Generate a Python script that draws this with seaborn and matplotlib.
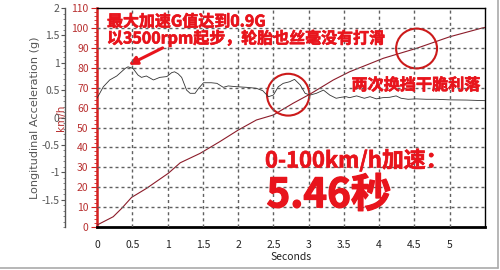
import numpy as np
import pandas as pd
import matplotlib
matplotlib.use("Agg")
import matplotlib.pyplot as plt
from matplotlib.ticker import MultipleLocator
from matplotlib.patches import Ellipse
from matplotlib.collections import LineCollection
import matplotlib.patheffects as pe
import seaborn as sns

# --- data ---
accel_t = [0.0, 0.09, 0.18, 0.28, 0.40, 0.44, 0.51, 0.58, 0.63, 0.70, 0.80, 0.89, 0.99,
           1.06, 1.10, 1.15, 1.20, 1.27, 1.32, 1.39, 1.44, 1.51, 1.62, 1.70, 1.79, 1.86,
           1.98, 2.12, 2.26, 2.35, 2.43, 2.50, 2.57, 2.64, 2.73, 2.80, 2.88, 2.95, 3.02,
           3.11, 3.21, 3.30, 3.39, 3.46, 3.53, 3.58, 3.68, 3.79, 3.87, 3.96, 4.05, 4.15,
           4.24, 4.31, 4.41, 4.52, 4.67, 4.81, 5.00, 5.24, 5.50]
accel_kmh_scale = [64.7, 70.5, 73.9, 75.9, 79.7, 80.5, 79.7, 76.4, 75.2, 75.9, 73.9, 75.2, 75.6,
                   77.6, 78.0, 77.0, 75.2, 68.8, 67.2, 67.2, 69.7, 72.5, 72.5, 72.2, 70.2, 70.9,
                   70.5, 70.2, 69.7, 68.5, 65.5, 66.3, 70.5, 72.2, 73.0, 74.2, 71.4, 67.2, 66.3,
                   67.2, 68.8, 66.3, 64.7, 65.2, 65.5, 65.0, 65.9, 64.7, 65.5, 64.4, 65.0, 65.2,
                   65.9, 64.7, 64.2, 64.4, 64.2, 64.2, 63.9, 63.8, 63.5]
speed_t = [0.0, 0.23, 0.35, 0.49, 0.70, 1.01, 1.18, 1.46, 1.74, 2.00, 2.26, 2.50, 2.78,
           3.02, 3.35, 3.58, 4.06, 4.53, 5.00, 5.46, 5.50]
speed_kmh = [1.0, 5.2, 9.4, 14.9, 19.4, 27.0, 32.3, 37.0, 42.9, 48.7, 53.8, 56.3, 62.2,
             66.8, 73.9, 78.0, 84.8, 89.8, 95.6, 100.0, 100.3]

# acceleration in g (g axis -2..2 spans the same height as 0..110 km/h)
accel_g = [-2 + v * 4 / 110 for v in accel_kmh_scale]

g_ticks = [2, 1.5, 1, 0.5, 0, -0.5, -1, -1.5]
g_labels = ["2", "1.5", "1", "0.5", "0", "-0.5", "-1", "-1.5"]
x_labels = ["0", "0.5", "1", "1.5", "2", "2.5", "3", "3.5", "4", "4.5", "5"]

sns.set_style("white")
plt.rcParams['font.family'] = ['Noto Sans CJK SC', 'DejaVu Sans']

fig = plt.figure(figsize=(5, 2.7), dpi=100)
ax = fig.add_axes([0.194, 0.159, 0.776, 0.811])

df_speed = pd.DataFrame({"t": speed_t, "kmh": speed_kmh})
sns.lineplot(data=df_speed, x="t", y="kmh", ax=ax, color="#8c1c2a", linewidth=0.8, zorder=3)
ax.set_xlim(0, 5.5)
ax.set_ylim(0, 110)

ax.xaxis.set_major_locator(MultipleLocator(0.5))
ax.xaxis.set_minor_locator(MultipleLocator(0.1))
ax.yaxis.set_major_locator(MultipleLocator(10))
ax.yaxis.set_minor_locator(MultipleLocator(2))
ax.set_xticks(np.arange(0, 5.01, 0.5))
ax.set_xticklabels(x_labels)

# horizontal dashed grid built from short solid segments at the km/h major ticks
dash_len, dash_step = 0.042, 0.085
dash_starts = np.arange(0, 5.5, dash_step)
h_segments = []
for yv in ax.get_yticks():
    if 0 < yv < 110:
        for xs in dash_starts:
            h_segments.append([(xs, yv), (min(xs + dash_len, 5.5), yv)])
ax.add_collection(LineCollection(h_segments, colors="#606060", linewidths=1.0,
                                 linestyles="solid", zorder=3))

for s in ["top", "right"]:
    ax.spines[s].set_color("black")
    ax.spines[s].set_linewidth(1.0)
ax.spines["bottom"].set_color("black")
ax.spines["bottom"].set_linewidth(2.0)
ax.spines["left"].set_color("#d42020")
ax.spines["left"].set_linewidth(1.8)

ax.tick_params(axis="x", which="major", direction="out", length=4, width=0.8,
               color="black", labelsize=7.5, labelcolor="#222222", pad=5)
ax.tick_params(axis="x", which="minor", direction="out", length=2.5, width=0.6, color="black")
ax.tick_params(axis="y", which="major", direction="out", length=4, width=0.8,
               color="#d42020", labelsize=7.5, labelcolor="#b83030", pad=2)
ax.tick_params(axis="y", which="minor", direction="out", length=2, width=0.6, color="#d42020")
ax.set_xlabel("Seconds", fontsize=7.5, color="#222222", labelpad=2)
ax.set_ylabel("")
ax.text(-0.092, 0.5, "km/h", transform=ax.transAxes, rotation=90, fontsize=7.5,
        color="#b83030", ha="center", va="center", family=['DejaVu Sans'])

# g axis
axg = ax.twinx()
df_acc = pd.DataFrame({"t": accel_t, "g": accel_g})
sns.lineplot(data=df_acc, x="t", y="g", ax=axg, color="#333333", linewidth=0.6, zorder=3)
axg.set_ylim(-2, 2)
axg.set_xlim(0, 5.5)
axg.patch.set_visible(False)

# vertical dashed grid at the seconds major ticks
grid_kw = dict(linestyle=(0, (2.2, 2.2)), color="#606060", linewidth=1.0, zorder=1)
for xv in ax.get_xticks():
    if 0 < xv < 5.5:
        axg.axvline(xv, **grid_kw)

axg.spines["right"].set_visible(False)
axg.spines["top"].set_visible(False)
axg.spines["bottom"].set_visible(False)
axg.spines["left"].set_visible(True)
axg.spines["left"].set_position(("outward", 23))
axg.spines["left"].set_color("#555555")
axg.spines["left"].set_linewidth(1.0)
axg.yaxis.set_ticks_position("left")
axg.yaxis.set_label_position("left")
axg.set_yticks(g_ticks)
axg.set_yticklabels(g_labels)
axg.yaxis.set_minor_locator(MultipleLocator(0.1))
axg.tick_params(axis="y", which="major", direction="out", length=3, width=0.8,
                color="#555555", labelsize=7.5, labelcolor="#555555", pad=1)
axg.tick_params(axis="y", which="minor", direction="out", length=1.5, width=0.5, color="#555555")
axg.set_xlabel("")
axg.set_ylabel("Longitudinal Acceleration (g)", fontsize=8.1, color="#555555",
               family=['DejaVu Sans'])
axg.yaxis.set_label_coords(-0.147, 0.5)
axg.tick_params(axis="x", bottom=False, labelbottom=False)
axg.set_ylim(-2, 2)
axg.set_xlim(0, 5.5)

# annotations
red = "#e8141c"
stroke = [pe.withStroke(linewidth=0.45, foreground=red)]
fig.text(0.214, 0.950, "最大加速G值达到0.9G\n以3500rpm起步，轮胎也丝毫没有打滑",
         color=red, fontsize=11.5, fontweight="bold", ha="left", va="top", linespacing=1.0,
         path_effects=stroke)
fig.text(0.703, 0.685, "两次换挡干脆利落", color=red, fontsize=11.6, fontweight="bold",
         ha="left", va="center", path_effects=stroke)
fig.text(0.530, 0.405, "0-100km/h加速：", color=red, fontsize=15.8, fontweight="bold",
         ha="left", va="center", path_effects=stroke)
fig.text(0.533, 0.275, "5.46秒", color=red, fontsize=29, fontweight="bold",
         ha="left", va="center", path_effects=[pe.withStroke(linewidth=0.9, foreground=red)])

ax.annotate("", xy=(0.45, 81.5), xytext=(0.93, 90),
            arrowprops=dict(arrowstyle="-|>", color=red, lw=2.2, mutation_scale=12,
                            shrinkA=0, shrinkB=0))
ax.add_patch(Ellipse((2.71, 66.5), 0.60, 21, fill=False, edgecolor="#cc1a1a", lw=1.5, zorder=5))
ax.add_patch(Ellipse((4.53, 89.7), 0.58, 20, fill=False, edgecolor="#cc1a1a", lw=1.5, zorder=5))

# outer grey frame lines
fig.add_artist(plt.Line2D([0, 0.996], [0.008, 0.008], transform=fig.transFigure,
                          color="#aaaaaa", lw=1.2))
fig.add_artist(plt.Line2D([0.996, 0.996], [0.008, 1.0], transform=fig.transFigure,
                          color="#aaaaaa", lw=1.2))

fig.savefig("out.png", dpi=100)
